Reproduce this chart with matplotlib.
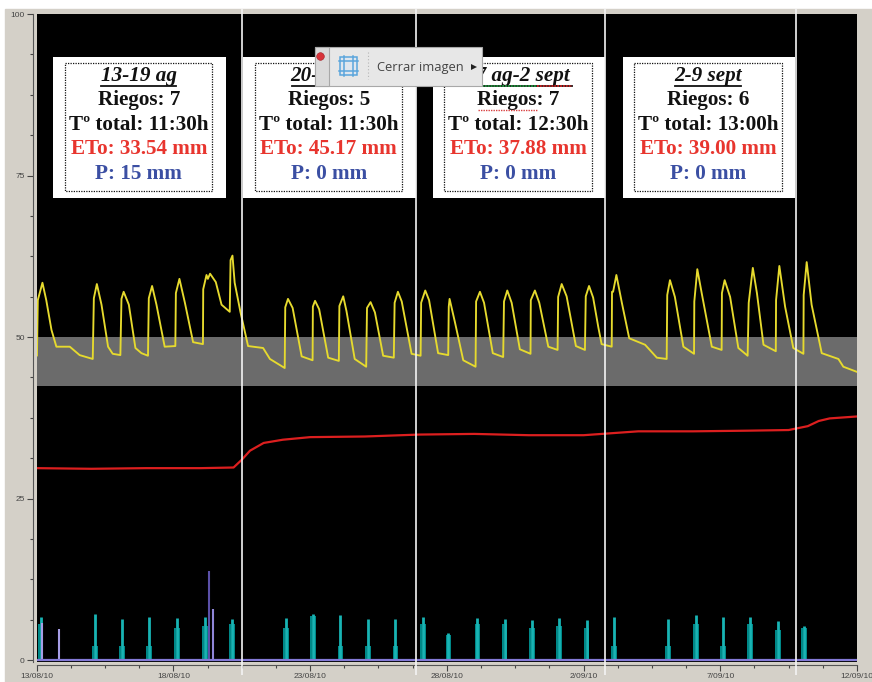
import numpy as np
import matplotlib
matplotlib.use("Agg")
from matplotlib import pyplot as plt
from matplotlib.patches import Rectangle

# dates on the x axis, one tick label every 5 days
date_labels = ["13/08/10", "18/08/10", "23/08/10", "28/08/10", "2/09/10", "7/09/10", "12/09/10"]
date_days = [0, 5, 10, 15, 20, 25, 30]
y_labels = [0, 25, 50, 75, 100]

# yellow sensor trace (days since 13/08, value)
yellow_days = [0.00, 0.01, 0.04, 0.21, 0.35, 0.54, 0.72, 1.21, 1.57, 2.05,
               2.09, 2.20, 2.37, 2.61, 2.78, 3.06,
               3.10, 3.18, 3.37, 3.61, 3.83, 4.07,
               4.10, 4.22, 4.38, 4.68, 5.07,
               5.09, 5.22, 5.42, 5.72, 6.08,
               6.09, 6.21, 6.26, 6.34, 6.55, 6.76, 7.06,
               7.09, 7.16, 7.24, 7.45, 7.73, 8.28, 8.53, 9.07,
               9.09, 9.19, 9.36, 9.69, 10.09,
               10.10, 10.18, 10.33, 10.66, 11.05,
               11.07, 11.21, 11.33, 11.63, 12.05,
               12.08, 12.21, 12.37, 12.67, 13.06,
               13.09, 13.21, 13.35, 13.71, 14.04,
               14.06, 14.21, 14.35, 14.68, 15.05,
               15.07, 15.10, 15.29, 15.60, 16.05,
               16.07, 16.21, 16.36, 16.68, 17.06,
               17.09, 17.21, 17.37, 17.67, 18.06,
               18.07, 18.22, 18.38, 18.71, 19.05,
               19.07, 19.20, 19.38, 19.72, 20.05,
               20.08, 20.20, 20.35, 20.54, 20.66, 21.03,
               21.04, 21.08, 21.20, 21.40, 21.67, 22.25, 22.68, 23.04,
               23.06, 23.16, 23.34, 23.65, 24.04,
               24.05, 24.16, 24.32, 24.69, 25.05,
               25.06, 25.16, 25.36, 25.66, 26.00,
               26.04, 26.19, 26.34, 26.58, 27.03,
               27.04, 27.16, 27.37, 27.67, 28.04,
               28.05, 28.16, 28.34, 28.71, 29.32, 29.50, 30.00]
yellow_vals = [47.1, 47.1, 55.7, 58.4, 55.7, 51.1, 48.5, 48.5, 47.2, 46.6,
               56.0, 58.2, 55.0, 48.5, 47.4, 47.2,
               55.9, 57.0, 55.0, 48.3, 47.5, 47.1,
               56.0, 57.9, 55.0, 48.5, 48.6,
               56.8, 59.0, 55.3, 49.2, 48.9,
               57.4, 59.6, 59.0, 59.8, 58.5, 55.0, 53.9,
               61.9, 62.6, 58.4, 53.9, 48.6, 48.3, 46.6, 45.2,
               54.6, 55.9, 54.5, 47.0, 46.4,
               54.7, 55.6, 54.3, 46.8, 46.3,
               54.8, 56.3, 54.0, 46.6, 45.4,
               54.5, 55.4, 53.8, 47.1, 46.8,
               55.3, 57.0, 55.5, 47.4, 47.1,
               55.3, 57.2, 55.7, 47.5, 47.2,
               54.7, 55.9, 52.4, 46.4, 45.4,
               55.5, 57.0, 55.3, 47.5, 46.9,
               55.5, 57.2, 55.3, 48.1, 47.4,
               55.7, 57.2, 55.3, 48.5, 48.0,
               56.2, 58.2, 56.3, 48.6, 48.0,
               56.3, 57.9, 56.1, 51.5, 48.9, 48.5,
               57.0, 57.0, 59.6, 55.3, 49.8, 48.8, 46.8, 46.6,
               56.5, 58.8, 56.2, 48.5, 47.4,
               55.5, 60.5, 56.8, 48.5, 48.0,
               56.8, 58.8, 56.2, 48.3, 47.1,
               55.3, 60.7, 56.8, 48.8, 47.8,
               55.7, 61.0, 54.7, 48.3, 47.4,
               56.5, 61.6, 55.0, 47.5, 46.6, 45.4, 44.6]

# red trace
red_days = [0, 2, 4, 6, 7.2, 7.5, 7.8, 8.3, 9, 10, 12, 14, 16, 18, 20, 21, 22, 24, 26, 27.5, 28.2, 28.6, 29, 30]
red_vals = [29.7, 29.6, 29.7, 29.7, 29.8, 31.0, 32.4, 33.6, 34.1, 34.5, 34.6, 34.9, 35.0, 34.8, 34.8, 35.1, 35.4, 35.4, 35.5, 35.6, 36.2, 37.0, 37.4, 37.7]

# irrigation pulses (teal): day, top of the pulse, height of the side step
teal_days = [0.14, 2.12, 3.12, 4.12, 5.13, 6.14, 7.13, 9.11, 10.11, 11.11, 12.12, 13.12, 14.13,
             15.06, 16.12, 17.11, 18.11, 19.10, 20.11, 21.11, 23.10, 24.10, 25.10, 26.09, 27.10, 28.07]
teal_tops = [6.7, 7.1, 6.4, 6.6, 6.5, 6.6, 6.4, 6.5, 7.2, 7.0, 6.4, 6.4, 6.6,
             4.2, 6.5, 6.4, 6.2, 6.5, 6.2, 6.6, 6.3, 6.9, 6.6, 6.6, 6.0, 5.3]
teal_side = [5.5, 2.1, 2.1, 2.1, 5.0, 5.3, 5.5, 5.0, 6.8, 2.1, 2.1, 2.1, 5.5,
             3.9, 5.6, 5.6, 5.0, 5.2, 5.0, 2.2, 2.2, 5.6, 2.2, 5.5, 4.6, 4.9]

# rain (purple)
rain_days = [0.19, 0.82, 6.29, 6.44]
rain_vals = [5.8, 4.75, 13.8, 7.9]

# band and weekly marks
band_low, band_high = 42.4, 50.0
week_days = [7.52, 13.88, 20.80, 27.76]

# weekly summary boxes
box_titles = ["13-19 ag", "20-26 ag", "27 ag-2 sept", "2-9 sept"]
box_riegos = ["Riegos: 7", "Riegos: 5", "Riegos: 7", "Riegos: 6"]
box_total = ["Tº total: 11:30h", "Tº total: 11:30h", "Tº total: 12:30h", "Tº total: 13:00h"]
box_eto = ["ETo: 33.54 mm", "ETo: 45.17 mm", "ETo: 37.88 mm", "ETo: 39.00 mm"]
box_p = ["P: 15 mm", "P: 0 mm", "P: 0 mm", "P: 0 mm"]

W, H = 872, 682
panel = "#d4d0c8"

fig = plt.figure(figsize=(W / 100, H / 100), dpi=100, facecolor="white")
fig.add_artist(Rectangle((5 / W, 0), 1, 1 - 9 / H, transform=fig.transFigure, color=panel, zorder=-1))

ax = fig.add_axes([36.7 / W, 1 - 661.5 / H, (857 - 36.7) / W, (661.5 - 14) / H], facecolor="black")
ax.set_xlim(0, 30)
ax.set_ylim(-0.23, 100)

ax.axhspan(band_low, band_high, color="#6b6b6b", lw=0, zorder=1)
ax.plot(yellow_days, yellow_vals, color="#e6da2e", lw=1.35, zorder=3)
ax.plot(red_days, red_vals, color="#dc1f1f", lw=1.6, zorder=3)

# pulses: side steps first, then the brighter centre stroke
teal_days_arr = np.array(teal_days)
ax.vlines(teal_days_arr - 0.07, 0, teal_side, color="#008c8c", lw=1.4, zorder=2)
ax.vlines(teal_days_arr + 0.07, 0, teal_side, color="#008c8c", lw=1.4, zorder=2)
ax.vlines(teal_days_arr, 0, teal_tops, color="#18b4b4", lw=2.0, zorder=2)

ax.vlines(rain_days, 0, rain_vals, color=["#a79ee6", "#a79ee6", "#5b50a8", "#8f86d8"], lw=1.5, zorder=4)
ax.axhline(0, color="#8379d6", lw=1.6, zorder=5)

# axis furniture sits a little off the black area
for side in ["top", "right"]:
    ax.spines[side].set_visible(False)
ax.spines["left"].set_position(("outward", 2.6))
ax.spines["bottom"].set_position(("outward", 2.6))
ax.spines["left"].set_color("#555555")
ax.spines["bottom"].set_color("#555555")
ax.set_xticks(date_days, date_labels)
ax.set_yticks(y_labels, [str(v) for v in y_labels])
ax.set_xticks(np.arange(0, 30.1, 1.25), minor=True)
ax.set_yticks(np.arange(0, 100.1, 6.25), minor=True)
ax.tick_params(axis="both", which="major", length=4, width=0.8, color="#444444",
               labelsize=6, labelcolor="#444444", pad=2)
ax.tick_params(axis="both", which="minor", length=2, width=0.8, color="#444444")
for lab in ax.get_xticklabels() + ax.get_yticklabels():
    lab.set_family("Liberation Sans")

# overlay in picture pixels for the boxes, white marks and popup
ov = fig.add_axes([0, 0, 1, 1], zorder=5, facecolor="none")
ov.set_xlim(0, W)
ov.set_ylim(H, 0)
ov.axis("off")

box_left = [53.3, 243, 432.7, 622.7]
box_right = [225.6, 416, 605, 795]
dot_left = [65.3, 255, 444, 634.3]
dot_right = [212.3, 402.3, 592, 781.7]
line_tops = [76, 100.5, 125.5, 149.5, 174]
serif = "Liberation Serif"
fs = 15.2

for i in range(4):
    ov.add_patch(Rectangle((box_left[i], 57.3), box_right[i] - box_left[i], 140.7, color="white", lw=0, zorder=1))
    ov.add_patch(Rectangle((dot_left[i], 63.3), dot_right[i] - dot_left[i], 127.4, fill=False,
                           ec="#111111", lw=0.9, ls=(0, (1, 1)), zorder=2))
    cx = (dot_left[i] + dot_right[i]) / 2
    ov.text(cx, line_tops[0], box_titles[i], family=serif, weight="bold", style="italic", size=fs,
            color="#111111", ha="center", va="center", zorder=3)
    ov.text(cx, line_tops[1], box_riegos[i], family=serif, weight="bold", size=fs,
            color="#111111", ha="center", va="center", zorder=3)
    ov.text(cx, line_tops[2], box_total[i], family=serif, weight="bold", size=fs,
            color="#111111", ha="center", va="center", zorder=3)
    ov.text(cx, line_tops[3], box_eto[i], family=serif, weight="bold", size=fs,
            color="#e8352e", ha="center", va="center", zorder=3)
    ov.text(cx, line_tops[4], box_p[i], family=serif, weight="bold", size=fs,
            color="#3b4fa3", ha="center", va="center", zorder=3)

# title underlines
under_left = [101, 291.7, 464, 675]
under_right = [175.7, 365.7, 572, 741]
for a, b in zip(under_left, under_right):
    ov.plot([a, b], [85.8, 85.8], color="#111111", lw=1.3, zorder=3)
# spell-check squiggles in the third box
ov.plot([482, 537], [86.2, 86.2], color="#1a9a3a", lw=1.3, ls=(0, (1, 0.6)), zorder=4)
ov.plot([537, 572], [86.2, 86.2], color="#d02020", lw=1.3, ls=(0, (1, 0.6)), zorder=4)
ov.plot([478, 538], [109.5, 109.5], color="#d84040", lw=1.0, ls=(0, (1, 0.8)), zorder=4)

# weekly white marks run past the plot on both ends
x_scale = (857 - 36.7) / 30
for d in week_days:
    xp = 36.7 + d * x_scale
    ov.plot([xp, xp], [9, 675], color="#f4f4f4", lw=1.2, zorder=5, solid_capstyle="butt")

# popup over the second box
ov.add_patch(Rectangle((314.5, 47), 167.5, 39, fc="#e7e7e7", ec="#a8a8a8", lw=0.8, zorder=6))
ov.add_patch(Rectangle((314.5, 47), 14, 39, fc="#dadada", ec="#a8a8a8", lw=0.8, zorder=6))
ov.plot([320.3], [55.5], marker="o", ms=5.5, color="#d8333a", mec="#a02028", mew=0.4, zorder=7)
ov.add_patch(Rectangle((340, 57), 17, 18, fc="#dfe6ee", ec="#5aa5dc", lw=1.1, zorder=7))
ov.plot([344, 344], [56, 76], color="#5aa5dc", lw=1.1, zorder=7)
ov.plot([353, 353], [56, 76], color="#5aa5dc", lw=1.1, zorder=7)
ov.plot([339, 358], [61, 61], color="#5aa5dc", lw=1.1, zorder=7)
ov.plot([339, 358], [71, 71], color="#5aa5dc", lw=1.1, zorder=7)
ov.plot([368, 368], [52, 79], color="#b5b5b5", lw=0.8, ls=(0, (1, 2)), zorder=7)
ov.text(377, 67, "Cerrar imagen", family="Open Sans", size=9.3, color="#444444", ha="left", va="center", zorder=7)
ov.plot([473.5], [67], marker=">", ms=4, color="#222222", mew=0, zorder=7)

fig.savefig("out.png", dpi=100)
